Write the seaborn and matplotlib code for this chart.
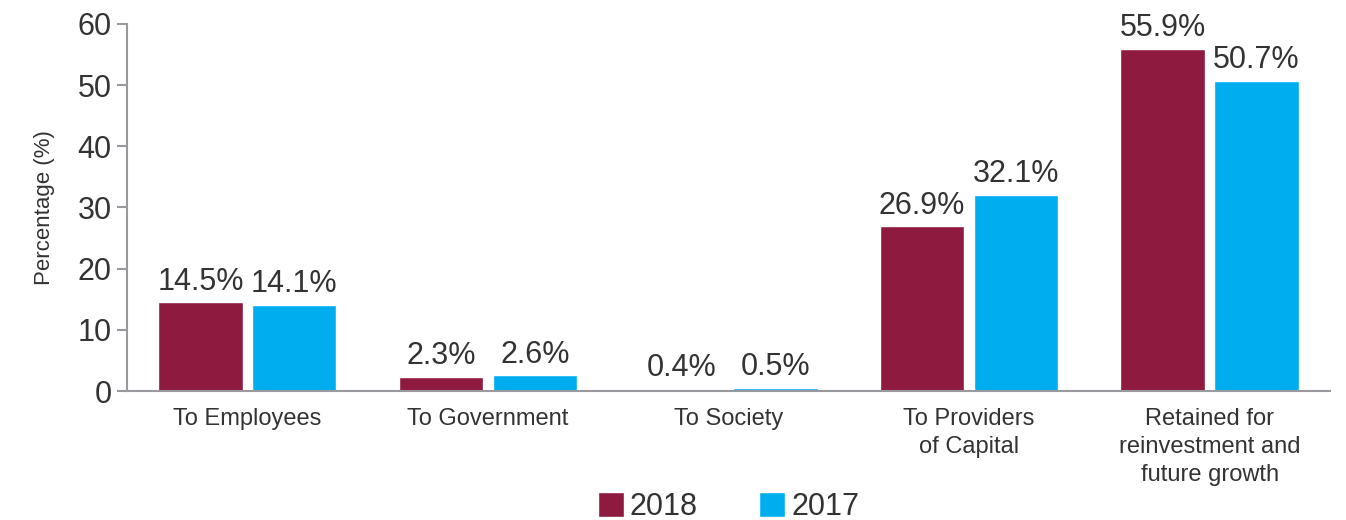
import pandas as pd
import matplotlib
matplotlib.use("Agg")
import matplotlib.pyplot as plt
import seaborn as sns

categories = ["To Employees", "To Government", "To Society",
              "To Providers\nof Capital",
              "Retained for\nreinvestment and\nfuture growth"]
years = ["2018", "2017"]
values_2018 = [14.5, 2.3, 0.4, 26.9, 55.9]
values_2017 = [14.1, 2.6, 0.5, 32.1, 50.7]
yticks = [0, 10, 20, 30, 40, 50, 60]

colors = {"2018": "#8E1A3F", "2017": "#00AEEF"}
text_color = "#333333"
axis_color = "#9A9A9E"

df = pd.DataFrame({
    "Category": categories * 2,
    "Year": ["2018"] * len(categories) + ["2017"] * len(categories),
    "Value": values_2018 + values_2017,
})

sns.set_theme(style="white")
plt.rcParams["font.family"] = ["Liberation Sans", "DejaVu Sans"]

fig = plt.figure(figsize=(13.46, 5.2), dpi=100)
ax = fig.add_axes([0.0944, 0.248, 0.8936, 0.706])

sns.barplot(data=df, x="Category", y="Value", hue="Year", hue_order=years,
            palette=colors, width=0.78, gap=0.1, saturation=1,
            legend=True, ax=ax)

for container in ax.containers:
    labels = [f"{v:.1f}%" for v in container.datavalues]
    ax.bar_label(container, labels=labels, padding=4, fontsize=22,
                 color=text_color)

ax.set_ylim(0, 60)
ax.set_xlim(-0.5, 4.5)
ax.set_yticks(yticks)
ax.tick_params(axis="y", length=7, width=1.5, color=axis_color,
               labelsize=22, labelcolor=text_color, pad=4, left=True)
ax.tick_params(axis="x", length=0, labelsize=17, labelcolor=text_color, pad=12)
for lbl in ax.get_xticklabels():
    lbl.set_linespacing(1.35)
ax.set_xlabel("")
ax.set_ylabel("Percentage (%)", fontsize=16, color=text_color, labelpad=16)

sns.despine(ax=ax, top=True, right=True)
for side in ["left", "bottom"]:
    ax.spines[side].set_color(axis_color)
    ax.spines[side].set_linewidth(1.5)

handles, lbls = ax.get_legend_handles_labels()
ax.legend(handles, lbls, loc="lower center", bbox_to_anchor=(0.5, -0.39),
          ncol=2, frameon=False, fontsize=22, handlelength=0.85,
          handleheight=0.85, handletextpad=0.2, columnspacing=2.0,
          labelcolor=text_color, borderaxespad=0)

fig.savefig("out.png", dpi=100)
